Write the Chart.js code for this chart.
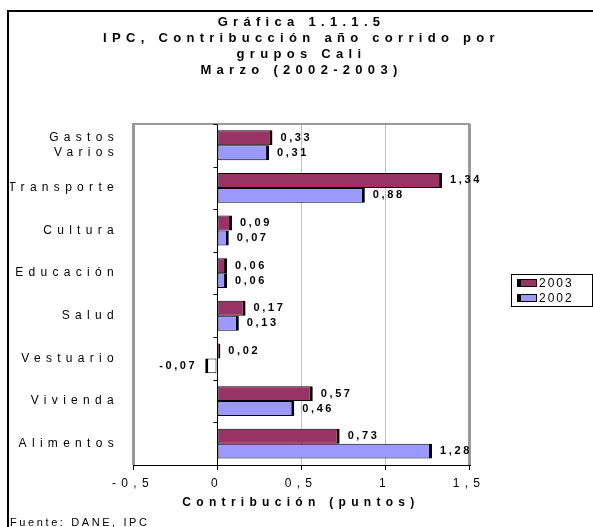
<!DOCTYPE html>
<html>
<head>
<meta charset="utf-8">
<script src="https://cdn.jsdelivr.net/npm/chart.js@4/dist/chart.umd.min.js"></script>
<style>
  html, body { margin: 0; padding: 0; background: #fff; }
  #wrap { width: 593px; height: 527px; }
</style>
</head>
<body>
<div id="wrap"><canvas id="ipcchart" width="593" height="527"></canvas></div>
<script>
// DATA
const categories = [['Gastos', 'Varios'], 'Transporte', 'Cultura', 'Educación', 'Salud', 'Vestuario', 'Vivienda', 'Alimentos'];
const seriesNames = ['2003', '2002'];
const values2003 = [0.33, 1.34, 0.09, 0.06, 0.17, 0.02, 0.57, 0.73];
const values2002 = [0.31, 0.88, 0.07, 0.06, 0.13, -0.07, 0.46, 1.28];
const seriesColors = ['#993366', '#9999FF'];
const xMin = -0.5, xMax = 1.5, xStep = 0.5;
const titleLines = ['Gráfica 1.1.1.5', 'IPC, Contribucción año corrido por', 'grupos Cali', 'Marzo (2002-2003)'];
const xTitle = 'Contribución (puntos)';
const sourceNote = 'Fuente: DANE, IPC';

const FONT = '"Liberation Sans", Arial, sans-serif';
const fmt = v => String(+v.toFixed(2)).replace('.', ',');

// wide letter spacing like the original excel export
const spacing = {
  id: 'spacing',
  beforeUpdate(chart) { chart.ctx.letterSpacing = '5.3px'; },
  beforeDraw(chart) { chart.ctx.letterSpacing = '5.3px'; }
};

const extras = {
  id: 'extras',
  afterDatasetsDraw(chart) {
    const ctx = chart.ctx;
    const area = chart.chartArea;
    const xs = chart.scales.x, ys = chart.scales.y;
    ctx.save();
    // top border of plot
    ctx.fillStyle = '#999';
    ctx.fillRect(area.left - 1, area.top - 1, area.right - area.left + 2, 2);
    // category tick marks on the zero line
    const x0 = Math.round(xs.getPixelForValue(0)) + 0.5;
    const half = (ys.getPixelForValue(1) - ys.getPixelForValue(0)) / 2;
    ctx.strokeStyle = '#000';
    ctx.lineWidth = 1;
    ctx.beginPath();
    for (let i = 0; i < categories.length; i++) {
      const yy = Math.round(ys.getPixelForValue(i) - half) + 0.5;
      ctx.moveTo(x0 - 4, yy);
      ctx.lineTo(x0, yy);
    }
    ctx.stroke();
    // value labels
    ctx.letterSpacing = '2.6px';
    ctx.font = 'bold 11px ' + FONT;
    ctx.fillStyle = '#000';
    ctx.textBaseline = 'middle';
    chart.data.datasets.forEach((ds, i) => {
      chart.getDatasetMeta(i).data.forEach((bar, j) => {
        const v = ds.data[j];
        if (v < 0) {
          ctx.textAlign = 'right';
          ctx.fillText(fmt(v), bar.x - 8, bar.y);
        } else {
          ctx.textAlign = 'left';
          ctx.fillText(fmt(v), bar.x + 8, bar.y);
        }
      });
    });
    ctx.restore();
  },
  afterDraw(chart) {
    const ctx = chart.ctx;
    const area = chart.chartArea;
    ctx.save();
    // outer frame
    ctx.fillStyle = '#000';
    ctx.fillRect(7, 10, 2, chart.height - 10);
    ctx.fillRect(7, 10, chart.width - 7, 2);
    // legend
    const lx = 511, ly = Math.round((area.top + area.bottom) / 2) - 20;
    ctx.strokeStyle = '#000';
    ctx.lineWidth = 1;
    ctx.strokeRect(lx + 0.5, ly + 0.5, chart.width - lx - 1, 32);
    ctx.font = '12px ' + FONT;
    ctx.letterSpacing = '2px';
    ctx.textBaseline = 'middle';
    ctx.textAlign = 'left';
    chart.data.datasets.forEach((ds, i) => {
      const cy = ly + 9 + i * 15;
      ctx.fillStyle = '#000';
      ctx.fillRect(lx + 6, cy - 4, 20, 8);
      ctx.fillStyle = seriesColors[i];
      ctx.fillRect(lx + 10, cy - 3, 15, 6);
      ctx.fillStyle = '#000';
      ctx.fillText(ds.label, lx + 28, cy + 1);
    });
    // source
    ctx.font = '11px ' + FONT;
    ctx.letterSpacing = '2.6px';
    ctx.textBaseline = 'alphabetic';
    ctx.fillText(sourceNote, 10, 526);
    ctx.restore();
  }
};

const barBorder = c => c.raw < 0
  ? { top: 1, bottom: 1, left: 3, right: 1 }
  : { top: 1, bottom: 1, left: 1, right: 3 };

const ctx = document.getElementById('ipcchart').getContext('2d');
const ipcchart = new Chart(ctx, {
  type: 'bar',
  data: {
    labels: categories,
    datasets: [{
      label: seriesNames[0],
      data: values2003,
      backgroundColor: c => c.raw < 0 ? '#ffffff' : seriesColors[0],
      borderColor: '#000',
      borderWidth: barBorder,
      borderSkipped: false,
      categoryPercentage: 0.7,
      barPercentage: 1.0
    }, {
      label: seriesNames[1],
      data: values2002,
      backgroundColor: c => c.raw < 0 ? '#ffffff' : seriesColors[1],
      borderColor: '#000',
      borderWidth: barBorder,
      borderSkipped: false,
      categoryPercentage: 0.7,
      barPercentage: 1.0
    }]
  },
  options: {
    indexAxis: 'y',
    responsive: false,
    animation: false,
    layout: { padding: { left: 10, right: 0, top: 0, bottom: 11 } },
    plugins: {
      legend: { display: false },
      tooltip: { enabled: false },
      title: {
        display: true,
        text: titleLines,
        color: '#000',
        font: { family: FONT, size: 13, weight: 'bold', lineHeight: 1.23 },
        padding: { top: 14, bottom: 46 }
      }
    },
    scales: {
      x: {
        type: 'linear',
        min: xMin,
        max: xMax,
        afterFit: s => { s.height = 51; },
        ticks: {
          stepSize: xStep,
          color: '#000',
          padding: 6,
          font: { family: FONT, size: 12 },
          callback: v => fmt(v)
        },
        grid: {
          color: c => c.tick.value === 0 ? '#000' : (c.tick.value === xMin || c.tick.value === xMax ? '#999' : '#c0c0c0'),
          lineWidth: c => (c.tick.value === xMin || c.tick.value === xMax) ? 3 : 1,
          tickColor: '#000',
          tickWidth: 1,
          tickLength: 5
        },
        border: { color: '#000', width: 1 },
        title: {
          display: true,
          text: xTitle,
          color: '#000',
          font: { family: FONT, size: 12, weight: 'bold' },
          padding: { top: 4, bottom: 6 }
        }
      },
      y: {
        type: 'category',
        afterFit: s => { s.width = 123; },
        ticks: {
          color: '#000',
          padding: 14,
          font: { family: FONT, size: 12, lineHeight: 1.25 }
        },
        grid: { display: false, drawTicks: false },
        border: { display: false }
      },
      y2: {
        type: 'category',
        position: 'right',
        afterFit: s => { s.width = 124; },
        ticks: { display: false },
        grid: { display: false, drawTicks: false },
        border: { display: false }
      }
    }
  },
  plugins: [spacing, extras]
});
</script>
</body>
</html>
